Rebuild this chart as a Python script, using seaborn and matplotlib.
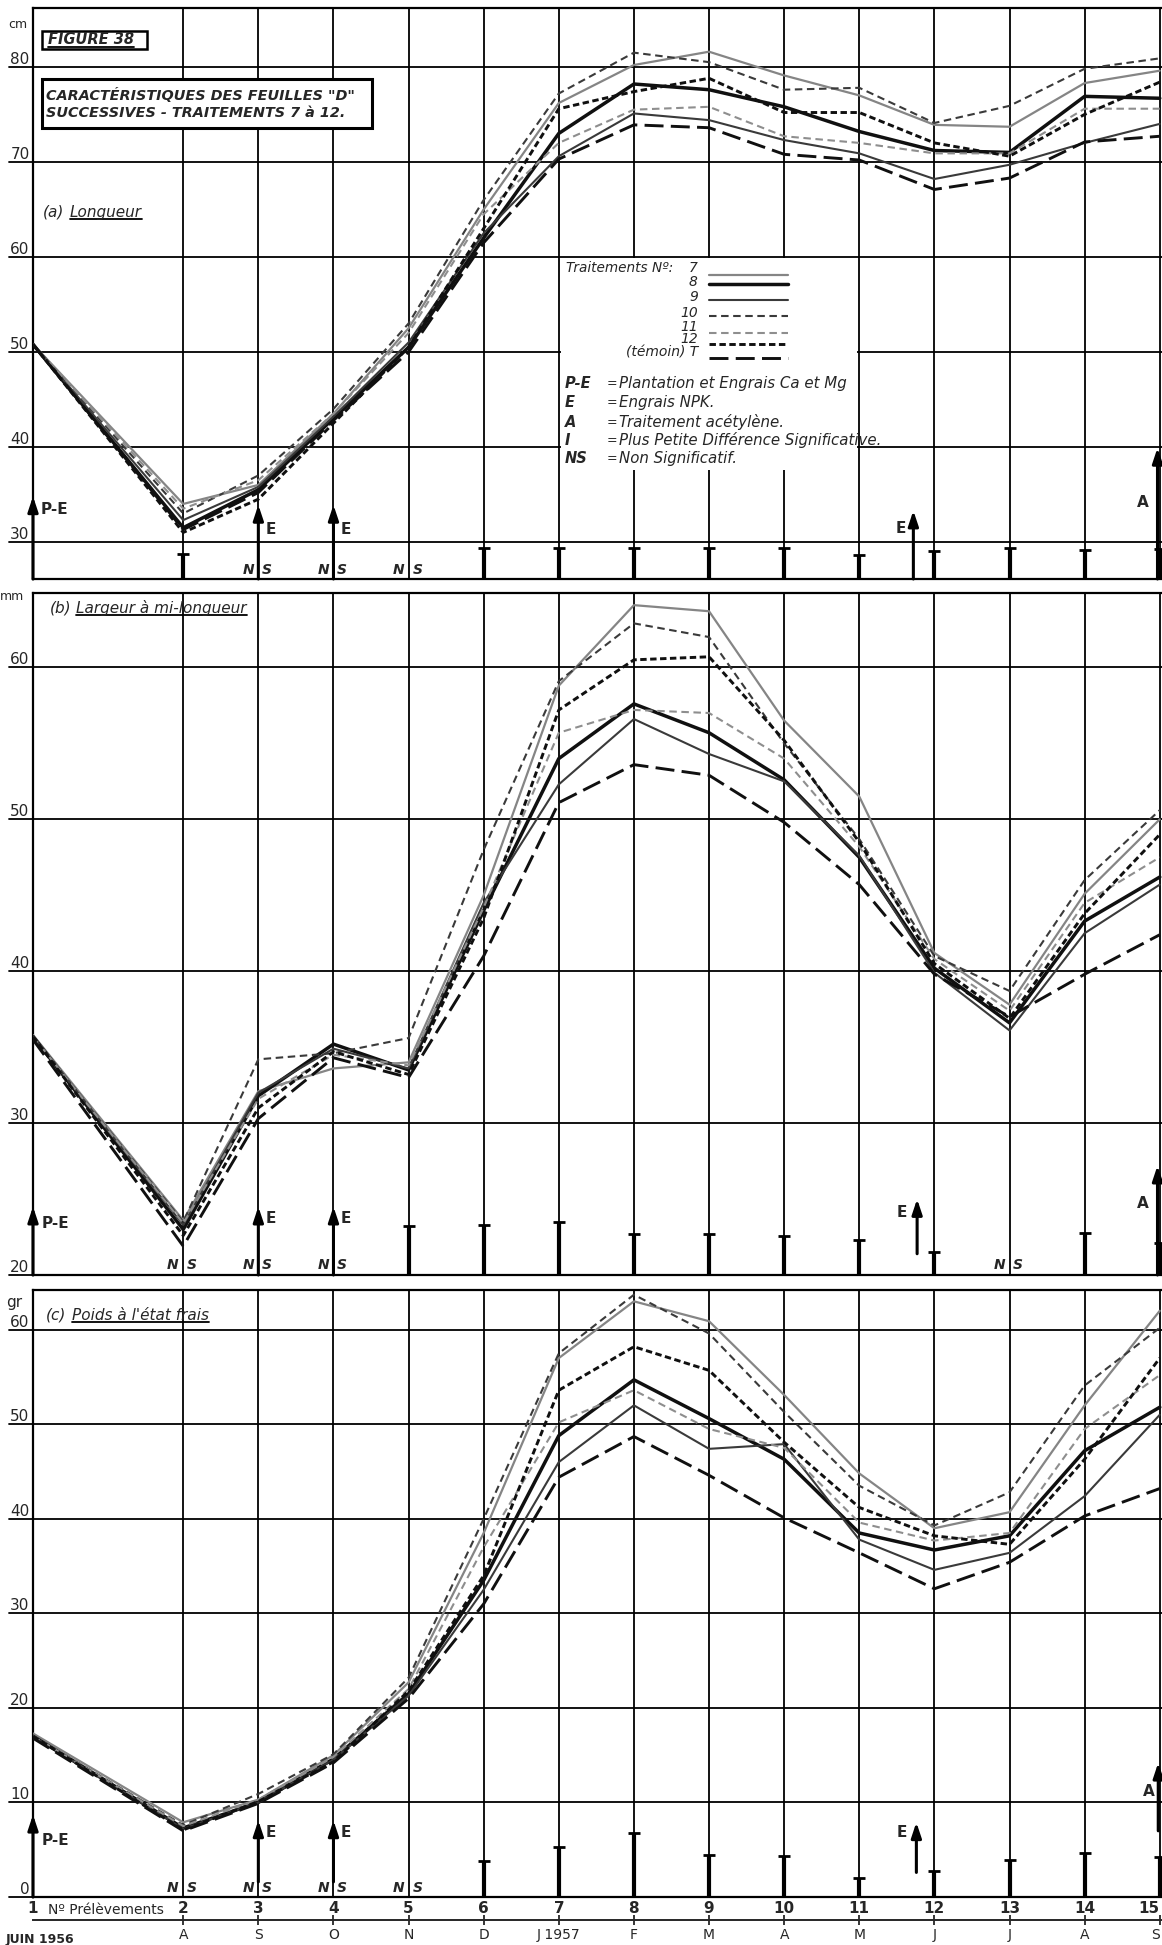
import pandas as pd
import matplotlib.pyplot as plt
import seaborn as sns
from matplotlib.lines import Line2D
from matplotlib.patches import Rectangle
from matplotlib.transforms import blended_transform_factory

# prélèvements 1..15 placed on a month scale (juin 1956 = 0, juillet absent)
prelevements = [str(i) for i in range(1, 16)]
mois = [0, 2, 3, 4, 5, 6, 7, 8, 9, 10, 11, 12, 13, 14, 15]
mois_labels = ['A', 'S', 'O', 'N', 'D', 'J 1957', 'F', 'M', 'A', 'M', 'J', 'J', 'A', 'S']
traitements = ['7', '8', '9', '10', '11', '12', 'T']

# (a) Longueur, cm
long_7 = [50.8, 34.0, 36.0, 43.5, 52.5, 65.0, 76.2, 80.2, 81.6, 79.1, 77.0, 73.9, 73.7, 78.3, 79.6]
long_8 = [50.8, 31.5, 35.5, 43.0, 50.5, 62.0, 73.0, 78.2, 77.6, 75.8, 73.2, 71.2, 71.0, 76.9, 76.7]
long_9 = [50.8, 32.3, 35.8, 43.2, 51.0, 62.5, 70.6, 75.1, 74.4, 72.3, 70.9, 68.2, 69.7, 72.0, 74.0]
long_10 = [50.8, 33.0, 37.0, 44.0, 53.0, 66.0, 77.2, 81.5, 80.5, 77.6, 77.8, 74.1, 75.9, 79.8, 80.9]
long_11 = [50.8, 33.5, 36.5, 43.5, 52.0, 64.5, 72.0, 75.5, 75.8, 72.7, 72.0, 70.9, 70.9, 75.6, 75.6]
long_12 = [50.8, 31.0, 34.5, 42.5, 50.5, 63.0, 75.6, 77.4, 78.8, 75.2, 75.2, 72.0, 70.6, 75.0, 78.4]
long_T = [50.8, 31.3, 35.2, 42.8, 50.0, 61.5, 70.3, 73.9, 73.6, 70.8, 70.2, 67.1, 68.3, 72.1, 72.7]

# (b) Largeur à mi-longueur, mm
larg_7 = [35.8, 23.6, 32.1, 33.6, 34.0, 45.0, 58.8, 64.1, 63.7, 56.5, 51.5, 41.2, 37.8, 45.1, 50.0]
larg_8 = [35.7, 23.0, 31.8, 35.2, 33.5, 44.0, 54.0, 57.6, 55.7, 52.6, 47.5, 40.2, 36.6, 43.3, 46.2]
larg_9 = [35.7, 23.3, 32.0, 34.9, 33.6, 44.5, 52.3, 56.6, 54.3, 52.5, 47.6, 39.9, 36.1, 42.5, 45.7]
larg_10 = [35.7, 23.5, 34.2, 34.6, 35.6, 48.0, 59.1, 62.9, 62.0, 55.0, 48.7, 41.0, 38.7, 46.0, 50.6]
larg_11 = [35.7, 23.4, 31.6, 34.5, 33.8, 44.2, 55.7, 57.2, 57.0, 54.0, 48.2, 40.8, 37.4, 44.5, 47.5]
larg_12 = [35.7, 22.6, 31.0, 34.7, 33.2, 43.5, 57.2, 60.5, 60.7, 55.2, 48.5, 40.5, 36.9, 43.8, 49.0]
larg_T = [35.5, 21.9, 30.3, 34.3, 33.0, 41.0, 51.1, 53.6, 52.9, 49.8, 45.7, 39.8, 37.0, 39.8, 42.4]

# (c) Poids à l'état frais, gr
poids_7 = [17.3, 7.9, 10.3, 15.0, 22.7, 38.5, 57.0, 63.0, 60.9, 53.1, 44.8, 39.0, 40.7, 52.0, 62.0]
poids_8 = [17.0, 7.3, 10.0, 14.6, 21.5, 33.5, 48.8, 54.7, 50.6, 46.3, 38.5, 36.7, 38.2, 47.2, 51.8]
poids_9 = [17.0, 7.2, 10.0, 14.5, 21.3, 32.5, 46.0, 52.0, 47.4, 47.9, 37.8, 34.6, 36.4, 42.4, 51.0]
poids_10 = [17.0, 7.6, 10.9, 15.1, 23.2, 40.0, 57.5, 63.7, 59.6, 51.3, 43.5, 39.3, 42.8, 54.1, 60.2]
poids_11 = [17.0, 7.5, 10.3, 14.8, 22.0, 37.0, 50.2, 53.6, 49.5, 47.5, 39.6, 37.7, 38.5, 49.5, 55.2]
poids_12 = [17.0, 7.1, 10.1, 14.3, 21.8, 34.0, 53.6, 58.2, 55.7, 48.1, 41.2, 38.2, 37.3, 46.3, 57.0]
poids_T = [16.8, 7.0, 9.9, 14.2, 21.0, 31.0, 44.4, 48.7, 44.6, 40.1, 36.4, 32.6, 35.4, 40.3, 43.2]

# plus petite différence significative (height of bar) and non significant points
ppds_a_mois = [2, 6, 7, 8, 9, 10, 11, 12, 13, 14, 15]
ppds_a = [2.6, 3.3, 3.3, 3.3, 3.3, 3.3, 2.5, 2.9, 3.3, 3.0, 3.2]
ns_a = [3, 4, 5]
ppds_b_mois = [5, 6, 7, 8, 9, 10, 11, 12, 14, 15]
ppds_b = [3.2, 3.3, 3.5, 2.7, 2.7, 2.6, 2.3, 1.5, 2.75, 2.1]
ns_b = [2, 3, 4, 13]
ppds_c_mois = [6, 7, 8, 9, 10, 11, 12, 13, 14, 15]
ppds_c = [3.8, 5.3, 6.8, 4.4, 4.3, 2.0, 2.7, 3.9, 4.7, 4.2]
ns_c = [2, 3, 4, 5]

couleurs = {'7': '#858585', '8': '#101010', '9': '#3a3a3a', '10': '#3a3a3a',
            '11': '#8e8e8e', '12': '#101010', 'T': '#101010'}
epaisseurs = {'7': 1.6, '8': 2.5, '9': 1.5, '10': 1.5, '11': 1.5, '12': 2.1, 'T': 2.1}
tirets = {'7': '', '8': '', '9': '', '10': (3.6, 2.2), '11': (3.6, 2.2),
          '12': (2.2, 1.2), 'T': (6.5, 2.5)}

sns.set_style('white')
plt.rcParams['font.family'] = ['DejaVu Sans']

W, H = 1162, 1945
fig = plt.figure(figsize=(W / 100, H / 100), dpi=100)
LEFT = 33


def px(x, y):
    return x / W, 1 - y / H


def make_axes(top, bottom):
    return fig.add_axes([LEFT / W, 1 - bottom / H, (W - LEFT) / W, (bottom - top) / H])


def long_form(series):
    return pd.DataFrame([
        {'mois': m, 'valeur': v, 'traitement': t}
        for t, vals in zip(traitements, series)
        for m, v in zip(mois, vals)
    ])


def draw_panel(ax, series, ylim, yticks, ppds_mois, ppds, ns):
    ax.set_xlim(0, 15.03)
    ax.set_ylim(*ylim)
    for y in yticks:
        ax.axhline(y, xmin=-0.021, xmax=1, clip_on=False, color='k', lw=1.3, zorder=1)
    for m in mois:
        ax.axvline(m, color='k', lw=1.3, zorder=1)
    sns.lineplot(data=long_form(series), x='mois', y='valeur', hue='traitement',
                 style='traitement', size='traitement', palette=couleurs,
                 dashes=tirets, sizes=epaisseurs, legend=False, ax=ax, zorder=5)
    ax.set_xlabel('')
    ax.set_ylabel('')
    ax.set_yticks([])
    ax.set_xticks([])
    for s in ['left', 'top', 'bottom']:
        ax.spines[s].set_linewidth(1.6)
        ax.spines[s].set_color('k')
    ax.spines['right'].set_visible(False)
    trans = blended_transform_factory(ax.transAxes, ax.transData)
    for y in yticks:
        ax.text(-0.003, y, str(y), transform=trans, ha='right', va='bottom', fontsize=11)
    y0 = ylim[0]
    for m, h in zip(ppds_mois, ppds):
        ax.vlines(m, y0, y0 + h, color='k', lw=3, zorder=6)
        ax.plot([m], [y0 + h], marker='_', ms=8, mew=2, color='k', zorder=6)
    span = ylim[1] - ylim[0]
    for m in ns:
        ax.text(m - 0.06, y0 + span * 0.004, 'N', ha='right', va='bottom',
                fontsize=10, style='italic', fontweight='bold')
        ax.text(m + 0.05, y0 + span * 0.004, 'S', ha='left', va='bottom',
                fontsize=10, style='italic', fontweight='bold')


def arrow(ax, m, tip, label, lx, ly, ha='left', start=None):
    y0 = ax.get_ylim()[0] if start is None else start
    ax.annotate('', xy=(m, tip), xytext=(m, y0),
                arrowprops=dict(arrowstyle='-|>,head_length=0.9,head_width=0.3',
                                color='k', lw=2.2, shrinkA=0, shrinkB=0), zorder=7)
    ax.text(lx, ly, label, ha=ha, va='center', fontsize=11, fontweight='bold')


ax_a = make_axes(8, 579)
ax_b = make_axes(593, 1275)
ax_c = make_axes(1290, 1897)

draw_panel(ax_a, [long_7, long_8, long_9, long_10, long_11, long_12, long_T],
           (26.1, 86.2), [30, 40, 50, 60, 70, 80], ppds_a_mois, ppds_a, ns_a)
draw_panel(ax_b, [larg_7, larg_8, larg_9, larg_10, larg_11, larg_12, larg_T],
           (20, 64.9), [20, 30, 40, 50, 60], ppds_b_mois, ppds_b, ns_b)
draw_panel(ax_c, [poids_7, poids_8, poids_9, poids_10, poids_11, poids_12, poids_T],
           (0, 64.2), [0, 10, 20, 30, 40, 50, 60], ppds_c_mois, ppds_c, ns_c)

# arrows: P-E, E, A
arrow(ax_a, 0, 34.8, 'P-E', 0.1, 33.4)
arrow(ax_a, 3, 33.9, 'E', 3.1, 31.3)
arrow(ax_a, 4, 33.9, 'E', 4.1, 31.3)
arrow(ax_a, 11.72, 33.3, 'E', 11.62, 31.4, ha='right')
arrow(ax_a, 14.97, 39.9, 'A', 14.85, 34.2, ha='right')

arrow(ax_b, 0, 24.5, 'P-E', 0.12, 23.4)
arrow(ax_b, 3, 24.5, 'E', 3.1, 23.7)
arrow(ax_b, 4, 24.5, 'E', 4.1, 23.7)
arrow(ax_b, 11.77, 25.0, 'E', 11.64, 24.1, ha='right', start=21.4)
arrow(ax_b, 14.97, 27.2, 'A', 14.85, 24.7, ha='right')

arrow(ax_c, 0, 8.7, 'P-E', 0.12, 6.0)
arrow(ax_c, 3, 8.1, 'E', 3.1, 6.8, start=1.6)
arrow(ax_c, 4, 8.1, 'E', 4.1, 6.8, start=1.6)
arrow(ax_c, 11.76, 7.9, 'E', 11.63, 6.8, ha='right', start=2.6)
arrow(ax_c, 14.98, 14.2, 'A', 14.93, 11.2, ha='right', start=7.0)

# legend box inside panel (a)
ax_a.add_patch(Rectangle((7.03, 37.6), 3.94, 22.3, fc='white', ec='none', zorder=2))
ax_a.text(7.1, 58.8, 'Traitements Nº:', fontsize=9.8, style='italic', va='center', zorder=3)
leg_num_y = [58.8, 57.4, 55.8, 54.1, 52.6, 51.4, 49.9]
leg_line_y = [58.1, 57.2, 55.5, 53.8, 52.0, 50.8, 49.4]
leg_names = ['7', '8', '9', '10', '11', '12', '(témoin) T']
for t, name, ny, ly in zip(traitements, leg_names, leg_num_y, leg_line_y):
    ax_a.text(8.85, ny, name, fontsize=10, style='italic', ha='right', va='center', zorder=3)
    ax_a.add_line(Line2D([9.0, 10.05], [ly, ly], color=couleurs[t], lw=epaisseurs[t],
                         dashes=tirets[t] if tirets[t] else (None, None), zorder=3))
keys = [('P-E', 'Plantation et Engrais Ca et Mg'), ('E', 'Engrais NPK.'),
        ('A', 'Traitement acétylène.'), ('I', 'Plus Petite Différence Significative.'),
        ('NS', 'Non Significatif.')]
for (k, txt), y in zip(keys, [46.7, 44.7, 42.6, 40.7, 38.8]):
    ax_a.text(7.08, y, k, fontsize=10.5, style='italic', fontweight='bold', va='center', zorder=3)
    ax_a.text(7.64, y, '=', fontsize=9, va='center', zorder=3)
    ax_a.text(7.8, y, txt, fontsize=10.8, style='italic', va='center', zorder=3)

# titles
t_fig = fig.text(*px(48, 40), 'FIGURE 38', fontsize=10.5, style='italic', fontweight='bold',
                 va='center', ha='left')
fig.add_artist(Rectangle(px(42, 49), 105 / W, 18 / H, transform=fig.transFigure,
                         fc='none', ec='k', lw=1.8))
fig.add_artist(Rectangle(px(42, 128), 330 / W, 49 / H, transform=fig.transFigure,
                         fc='white', ec='k', lw=2.2, zorder=3))
fig.text(*px(46, 96), 'CARACTÉRISTIQUES DES FEUILLES "D"', fontsize=10.4, style='italic',
         fontweight='bold', va='center', zorder=4)
fig.text(*px(46, 113), 'SUCCESSIVES - TRAITEMENTS 7 à 12.', fontsize=10.4, style='italic',
         fontweight='bold', va='center', zorder=4)

under = [t_fig]
for lab, word, x1, x2, y in [('(a)', 'Longueur', 43, 70, 212),
                             ('(b)', 'Largeur à mi-longueur', 50, 76, 608),
                             ('(c)', "Poids à l'état frais", 46, 72, 1315)]:
    fig.text(*px(x1, y), lab, fontsize=11, style='italic', va='center')
    under.append(fig.text(*px(x2, y), word, fontsize=11, style='italic', va='center'))

fig.text(*px(18, 24), 'cm', fontsize=9, ha='center', va='center')
fig.text(*px(12, 596), 'mm', fontsize=9, ha='center', va='center')
fig.text(*px(14, 1302), 'gr', fontsize=11, ha='center', va='center')

# bottom axis: prélèvements and months
ax_c.set_xticks(mois, labels=prelevements)
ax_c.tick_params(axis='x', length=0, pad=3, labelsize=11)
for lbl in ax_c.get_xticklabels():
    lbl.set_fontweight('bold')
ax_c.get_xticklabels()[-1].set_horizontalalignment('right')
fig.text(*px(48, 1910), 'Nº Prélèvements', fontsize=10, va='center', ha='left')
sec = ax_c.secondary_xaxis(-0.038)
sec.set_xticks(mois[1:], labels=mois_labels)
sec.tick_params(axis='x', length=7, direction='inout', width=1.3, pad=2, labelsize=10)
sec.spines['bottom'].set_linewidth(1.4)
sec.get_xticklabels()[-1].set_horizontalalignment('right')
fig.text(*px(6, 1940), 'JUIN 1956', fontsize=9, va='center', ha='left', fontweight='bold')

fig.canvas.draw()
renderer = fig.canvas.get_renderer()
inv = fig.transFigure.inverted()
for t in under:
    bb = t.get_window_extent(renderer)
    (x0, y0), (x1, _) = inv.transform([(bb.x0, bb.y0), (bb.x1, bb.y0)])
    fig.add_artist(Line2D([x0, x1], [y0 + 0.0005, y0 + 0.0005], color='k', lw=1.3,
                          transform=fig.transFigure))

fig.savefig('out.png', dpi=100)
